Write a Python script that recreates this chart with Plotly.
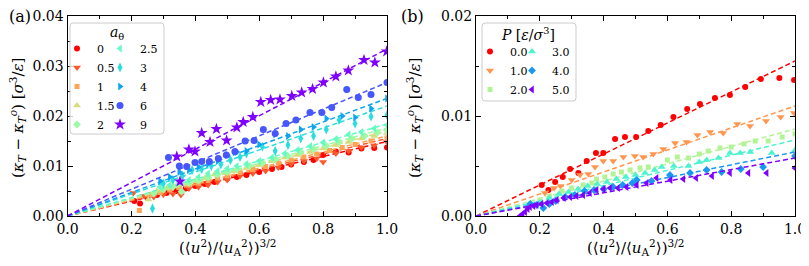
import plotly.graph_objects as go
import math

# ---------------- data: panel (a) ----------------
a_labels = ["0", "0.5", "1", "1.5", "2", "2.5", "3", "4", "6", "9"]

a_x0 = [0.209,0.227,0.25,0.28,0.31,0.34,0.37,0.40,0.43,0.46,0.50,0.53,0.56,0.60,0.64,0.67,0.70,0.74,0.77,0.80,0.84,0.88,0.92,0.96,1.0]
a_y0 = [0.0030,0.0025,0.0037,0.0042,0.0046,0.0050,0.0055,0.0060,0.0064,0.0068,0.0075,0.0078,0.0082,0.0088,0.0094,0.0098,0.0103,0.0108,0.0112,0.0122,0.0129,0.0127,0.0135,0.0136,0.0137]

a_x05 = [0.206,0.24,0.27,0.30,0.33,0.355,0.38,0.41,0.44,0.47,0.50,0.54,0.58,0.62,0.66,0.70,0.74,0.78,0.80,0.84,0.88,0.92,0.96,1.0]
a_y05 = [0.0046,0.0040,0.0038,0.0043,0.0044,0.0042,0.0055,0.0058,0.0062,0.0068,0.0072,0.0080,0.0085,0.0090,0.0097,0.0104,0.0110,0.0115,0.0108,0.0125,0.0130,0.0137,0.0141,0.0148]

a_x1 = [0.225,0.26,0.29,0.32,0.35,0.38,0.41,0.44,0.47,0.50,0.54,0.58,0.62,0.66,0.70,0.74,0.78,0.82,0.86,0.90,0.95,1.0]
a_y1 = [0.0011,0.0043,0.0047,0.0052,0.0057,0.0062,0.0066,0.0071,0.0076,0.0080,0.0087,0.0093,0.0099,0.0106,0.0112,0.0118,0.0124,0.0131,0.0137,0.0143,0.0150,0.0156]

a_x15 = [0.253,0.28,0.31,0.34,0.37,0.40,0.43,0.46,0.49,0.52,0.56,0.60,0.64,0.68,0.72,0.76,0.80,0.84,0.88,0.92,0.96,1.0]
a_y15 = [0.0033,0.0050,0.0055,0.0060,0.0064,0.0070,0.0076,0.0083,0.0087,0.0090,0.0096,0.0102,0.0110,0.0117,0.0122,0.0128,0.0135,0.0142,0.0148,0.0155,0.0160,0.0166]

a_x2 = [0.27,0.30,0.33,0.357,0.38,0.41,0.44,0.47,0.50,0.53,0.57,0.61,0.65,0.69,0.73,0.77,0.81,0.85,0.89,0.93,0.97,1.0]
a_y2 = [0.0045,0.0053,0.0058,0.0049,0.0066,0.0071,0.0077,0.0083,0.0088,0.0093,0.0100,0.0106,0.0113,0.0120,0.0128,0.0134,0.0140,0.0148,0.0155,0.0160,0.0167,0.0172]

a_x25 = [0.29,0.32,0.35,0.38,0.41,0.44,0.47,0.50,0.53,0.56,0.60,0.64,0.68,0.72,0.76,0.80,0.84,0.88,0.92,0.96,1.0]
a_y25 = [0.0058,0.0062,0.0068,0.0072,0.0078,0.0085,0.0090,0.0095,0.0100,0.0104,0.0110,0.0117,0.0125,0.0132,0.0140,0.0147,0.0154,0.0163,0.0168,0.0175,0.0182]

a_x3 = [0.266,0.30,0.33,0.36,0.39,0.42,0.45,0.48,0.51,0.54,0.56,0.61,0.65,0.69,0.73,0.77,0.81,0.85,0.90,0.95,1.0]
a_y3 = [0.0015,0.0065,0.0072,0.0080,0.0092,0.0094,0.0100,0.0103,0.0112,0.0118,0.0125,0.0139,0.0130,0.0142,0.0155,0.0160,0.0173,0.0192,0.0185,0.0199,0.0202]

a_x4 = [0.29,0.32,0.35,0.38,0.41,0.44,0.47,0.50,0.53,0.56,0.60,0.65,0.69,0.73,0.77,0.81,0.86,0.90,0.95,1.0]
a_y4 = [0.0070,0.0078,0.0088,0.0092,0.0098,0.0104,0.0110,0.0122,0.0128,0.0130,0.0143,0.0163,0.0160,0.0173,0.0178,0.0195,0.0200,0.0197,0.0215,0.0235]

a_x6 = [0.316,0.350,0.373,0.399,0.420,0.444,0.472,0.497,0.524,0.556,0.584,0.613,0.650,0.684,0.715,0.759,0.796,0.827,0.874,0.910,0.950,1.0]
a_y6 = [0.0117,0.0100,0.0099,0.0107,0.0109,0.0109,0.0115,0.0122,0.0129,0.0150,0.0151,0.0173,0.0165,0.0185,0.0192,0.0207,0.0207,0.0217,0.0253,0.0237,0.0243,0.0267]

a_x9 = [0.342,0.352,0.380,0.399,0.420,0.446,0.466,0.498,0.530,0.550,0.580,0.605,0.636,0.665,0.702,0.733,0.767,0.801,0.840,0.879,0.928,0.962,0.999]
a_y9 = [0.0119,0.0069,0.0133,0.0129,0.0166,0.0148,0.0174,0.0151,0.0177,0.0188,0.0198,0.0228,0.0232,0.0233,0.0240,0.0247,0.0254,0.0267,0.0279,0.0291,0.0312,0.0307,0.0329]

a_fit_slope = [0.0149, 0.0155, 0.0160, 0.0170, 0.0176, 0.0184, 0.0220, 0.0235, 0.0267, 0.0334]

# ---------------- data: panel (b) ----------------
b_labels = ["0.0", "1.0", "2.0", "3.0", "4.0", "5.0"]

b_x0 = [0.206,0.227,0.248,0.272,0.295,0.321,0.347,0.376,0.399,0.436,0.467,0.502,0.540,0.579,0.619,0.662,0.702,0.749,0.796,0.844,0.893,0.951,0.997]
b_y0 = [0.0031,0.0026,0.0034,0.0039,0.0047,0.0043,0.0055,0.0063,0.0063,0.0077,0.0079,0.0079,0.0085,0.0091,0.0099,0.0107,0.0112,0.0118,0.0121,0.0129,0.0137,0.0138,0.0136]

b_x1 = [0.216,0.245,0.265,0.30,0.326,0.352,0.373,0.399,0.430,0.462,0.498,0.524,0.556,0.587,0.624,0.660,0.694,0.734,0.775,0.819,0.859,0.909,0.955,0.997]
b_y1 = [0.0023,0.0028,0.0030,0.0036,0.0041,0.0042,0.0049,0.0055,0.0055,0.0059,0.0060,0.0059,0.0062,0.0067,0.0073,0.0074,0.0081,0.0084,0.0083,0.0092,0.0090,0.0095,0.0099,0.0103]

b_x2 = [0.17,0.20,0.23,0.269,0.30,0.336,0.363,0.378,0.404,0.430,0.456,0.483,0.514,0.540,0.60,0.631,0.666,0.70,0.728,0.765,0.80,0.84,0.875,0.916,0.96,1.0]
b_y2 = [0.0012,0.0016,0.0020,0.0025,0.0028,0.0031,0.0033,0.0037,0.0039,0.0042,0.0044,0.0046,0.0048,0.0049,0.0056,0.0059,0.0058,0.0062,0.0065,0.0068,0.0069,0.0072,0.0075,0.0075,0.0079,0.0082]

b_x3 = [0.17,0.20,0.23,0.26,0.29,0.32,0.35,0.38,0.41,0.44,0.47,0.50,0.53,0.56,0.582,0.62,0.666,0.70,0.723,0.760,0.796,0.828,0.86,0.927,1.0]
b_y3 = [0.0011,0.0013,0.0018,0.0022,0.0024,0.0027,0.0030,0.0032,0.0034,0.0037,0.0039,0.0041,0.0043,0.0046,0.0049,0.0050,0.0050,0.0054,0.0056,0.0058,0.0063,0.0063,0.0064,0.0063,0.0066]

b_x4 = [0.17,0.19,0.211,0.23,0.25,0.28,0.31,0.34,0.37,0.40,0.43,0.46,0.49,0.504,0.55,0.608,0.671,0.723,0.77,0.83,0.90,1.0]
b_y4 = [0.0012,0.0011,0.0008,0.0012,0.0015,0.0019,0.0021,0.0025,0.0026,0.0027,0.0029,0.0031,0.0033,0.0036,0.0035,0.0041,0.0043,0.0046,0.0044,0.0047,0.0049,0.0060]

b_x5 = [0.138,0.146,0.154,0.162,0.169,0.18,0.19,0.205,0.222,0.238,0.253,0.275,0.295,0.315,0.336,0.357,0.378,0.40,0.42,0.445,0.472,0.504,0.535,0.566,0.61,0.650,0.69,0.74,0.796,0.854,0.911,1.0]
b_y5 = [0.0000,0.0002,0.0004,0.0007,0.0009,0.0010,0.0011,0.0012,0.0013,0.0014,0.0016,0.0018,0.0019,0.0020,0.0021,0.0023,0.0026,0.0027,0.0028,0.0028,0.0029,0.0031,0.0033,0.0038,0.0036,0.0037,0.0038,0.0040,0.0043,0.0043,0.0043,0.0048]

b_fit_slope = [0.0155, 0.0110, 0.0087, 0.0076, 0.0064, 0.0058]

fit_x = [0.0, 1.0]

# tick labels
x_tickvals = [0.0, 0.2, 0.4, 0.6, 0.8, 1.0]
x_ticktext = ["0.0", "0.2", "0.4", "0.6", "0.8", "1.0"]
ya_tickvals = [0.0, 0.01, 0.02, 0.03, 0.04]
ya_ticktext = ["0.00", "0.01", "0.02", "0.03", "0.04"]
yb_tickvals = [0.0, 0.01, 0.02]
yb_ticktext = ["0.00", "0.01", "0.02"]

# ---------------- styling ----------------
FONT = "DejaVu Serif"

def rainbow(t):
    r = min(1.0, max(0.0, abs(2 * t - 0.5)))
    g = min(1.0, max(0.0, math.sin(math.pi * t)))
    b = min(1.0, max(0.0, math.cos(math.pi * t / 2)))
    return "rgb(%d,%d,%d)" % (round(r * 255), round(g * 255), round(b * 255))

a_series = [(a_x0, a_y0), (a_x05, a_y05), (a_x1, a_y1), (a_x15, a_y15), (a_x2, a_y2),
            (a_x25, a_y25), (a_x3, a_y3), (a_x4, a_y4), (a_x6, a_y6), (a_x9, a_y9)]
a_symbols = ["circle", "triangle-down", "square", "triangle-up", "diamond",
             "triangle-left", "diamond-tall", "triangle-right", "circle", "star"]
a_sizes = [6, 7, 5, 7, 6, 7, 7, 7, 7, 9]
na = len(a_series)
a_colors = [rainbow(1 - i / (na - 1)) for i in range(na)]

b_series = [(b_x0, b_y0), (b_x1, b_y1), (b_x2, b_y2), (b_x3, b_y3), (b_x4, b_y4), (b_x5, b_y5)]
b_symbols = ["circle", "triangle-down", "square", "triangle-up", "diamond", "triangle-left"]
b_sizes = [6, 7, 5, 7, 6, 7]
nb = len(b_series)
b_colors = [rainbow(1 - i / (nb - 1)) for i in range(nb)]

fig = go.Figure()

for i, (xs, ys) in enumerate(a_series):
    leg = "legend" if i < 5 else "legend2"
    fig.add_trace(go.Scatter(x=xs, y=ys, mode="markers", name=a_labels[i],
                             marker=dict(symbol=a_symbols[i], size=a_sizes[i], color=a_colors[i], line=dict(width=0)),
                             xaxis="x", yaxis="y", legend=leg))
    fig.add_trace(go.Scatter(x=fit_x, y=[a_fit_slope[i] * v for v in fit_x], mode="lines",
                             line=dict(color=a_colors[i], width=1.5, dash="5px,3px"),
                             showlegend=False, hoverinfo="skip", xaxis="x", yaxis="y"))

for i, (xs, ys) in enumerate(b_series):
    leg = "legend3" if i < 3 else "legend4"
    fig.add_trace(go.Scatter(x=xs, y=ys, mode="markers", name=b_labels[i],
                             marker=dict(symbol=b_symbols[i], size=b_sizes[i], color=b_colors[i], line=dict(width=0)),
                             xaxis="x2", yaxis="y2", legend=leg))
    fig.add_trace(go.Scatter(x=fit_x, y=[b_fit_slope[i] * v for v in fit_x], mode="lines",
                             line=dict(color=b_colors[i], width=1.5, dash="5px,3px"),
                             showlegend=False, hoverinfo="skip", xaxis="x2", yaxis="y2"))

# the page has an 8px body margin: the figure is drawn at (8, 8) in the window
OFF = 8
W, H = 809 - OFF, 266 - OFF
def px(x):
    return (x - OFF) / W
def py(y):
    return 1 - (y - OFF) / H

axis_common = dict(showgrid=False, zeroline=False, showline=True, linecolor="black", linewidth=1,
                   mirror="allticks", ticks="inside", ticklen=5, tickwidth=1, tickcolor="black",
                   automargin=False, ticklabeloverflow="allow",
                   tickfont=dict(family=FONT, size=14, color="black"),
                   minor=dict(ticks="inside", ticklen=3, tickwidth=1, tickcolor="black", showgrid=False))

ydom = [py(216), py(16)]
fig.update_layout(
    template="none",
    width=W, height=H, margin=dict(l=0, r=0, t=0, b=0, pad=0), autosize=False,
    paper_bgcolor="white", plot_bgcolor="white",
    font=dict(family=FONT, color="black"),
    xaxis=dict(domain=[px(67.5), px(387)], range=[0, 1], tickvals=x_tickvals, ticktext=x_ticktext,
               anchor="y", **axis_common),
    yaxis=dict(domain=ydom, range=[0, 0.04], tickvals=ya_tickvals, ticktext=ya_ticktext,
               anchor="x", **axis_common),
    xaxis2=dict(domain=[px(476), px(795)], range=[0, 1], tickvals=x_tickvals, ticktext=x_ticktext,
                anchor="y2", **axis_common),
    yaxis2=dict(domain=ydom, range=[0, 0.02], tickvals=yb_tickvals, ticktext=yb_ticktext,
                anchor="x2", **axis_common),
)
fig.update_xaxes(minor=dict(tickmode="linear", tick0=0, dtick=0.1))
fig.update_yaxes(minor=dict(tickmode="linear", tick0=0, dtick=0.005))

leg_common = dict(bgcolor="rgba(0,0,0,0)", borderwidth=0, font=dict(family=FONT, size=11, color="black"),
                  xanchor="left", yanchor="top", itemwidth=30, tracegroupgap=0, itemclick=False)
fig.update_layout(
    legend=dict(x=px(57), y=py(34), **leg_common),
    legend2=dict(x=px(100), y=py(34), **leg_common),
    legend3=dict(x=px(470), y=py(37), **leg_common),
    legend4=dict(x=px(512), y=py(37), **leg_common),
)

def rounded_box(x0, y0, x1, y1, r=3):
    rx, ry = r / W, r / H
    X0, X1, Y0, Y1 = px(x0), px(x1), py(y0), py(y1)
    p = (f"M {X0+rx},{Y0} L {X1-rx},{Y0} Q {X1},{Y0} {X1},{Y0-ry} "
         f"L {X1},{Y1+ry} Q {X1},{Y1} {X1-rx},{Y1} "
         f"L {X0+rx},{Y1} Q {X0},{Y1} {X0},{Y1+ry} "
         f"L {X0},{Y0-ry} Q {X0},{Y0} {X0+rx},{Y0} Z")
    return dict(type="path", xref="paper", yref="paper", path=p,
                line=dict(color="#cccccc", width=1), fillcolor="rgba(255,255,255,0.8)", layer="above")

fig.add_shape(**rounded_box(70, 23, 164, 134))
fig.add_shape(**rounded_box(482, 23, 576, 101))

ann = []
ann.append(dict(text="(a)", x=px(7), y=py(5), xanchor="left", yanchor="top", font=dict(size=16)))
ann.append(dict(text="(b)", x=px(399), y=py(5), xanchor="left", yanchor="top", font=dict(size=16)))
ytitle = "(<i>κ<sub>T</sub></i> − <i>κ<sub>T</sub><sup>o</sup></i>) [<i>σ</i><sup>3</sup>/<i>ε</i>]"
xtitle = "(⟨<i>u</i><sup>2</sup>⟩/⟨<i>u</i><sub>A</sub><sup>2</sup>⟩)<sup>3/2</sup>"
ann.append(dict(text=ytitle, x=px(17), y=py(118), textangle=-90, xanchor="center", yanchor="middle", font=dict(size=15)))
ann.append(dict(text=ytitle, x=px(414), y=py(118), textangle=-90, xanchor="center", yanchor="middle", font=dict(size=15)))
ann.append(dict(text=xtitle, x=px(227), y=py(247), xanchor="center", yanchor="middle", font=dict(size=15)))
ann.append(dict(text=xtitle, x=px(635.5), y=py(247), xanchor="center", yanchor="middle", font=dict(size=15)))
ann.append(dict(text="<i>a</i><sub>θ</sub>", x=px(117), y=py(33), xanchor="center", yanchor="middle", font=dict(size=14)))
ann.append(dict(text="<i>P</i> [<i>ε</i>/<i>σ</i><sup>3</sup>]", x=px(528), y=py(34), xanchor="center", yanchor="middle", font=dict(size=14)))
for a in ann:
    a.update(xref="paper", yref="paper", showarrow=False)
    a["font"].update(family=FONT, color="black")
fig.update_layout(annotations=ann)

fig.write_html("out.html")
